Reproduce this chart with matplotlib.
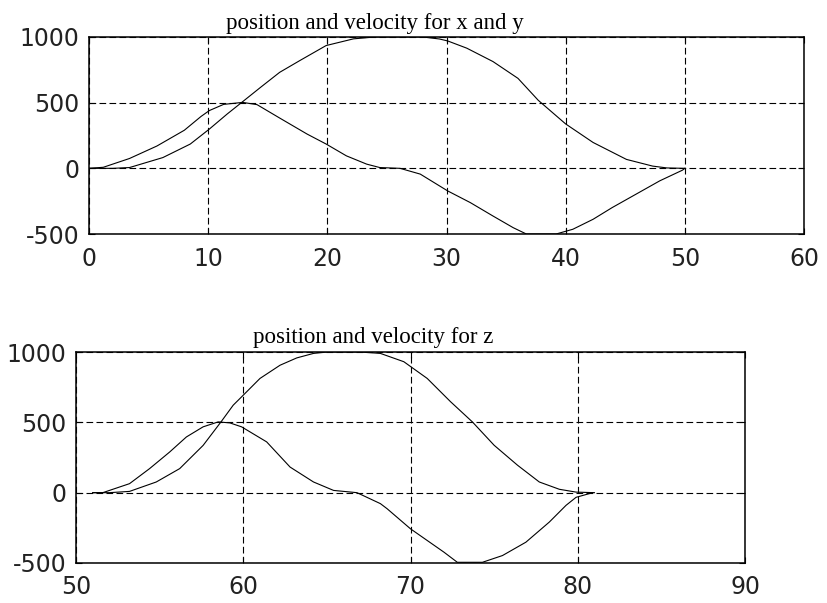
### Includes ###
import matplotlib
matplotlib.use("Agg")
import matplotlib.pyplot as plt

plt.rcParams["axes.unicode_minus"] = False

##
# Values
##
xyPosTime	= [0, 2, 3.4, 6.2, 8.5, 10.1, 11.6, 12.9, 14.4, 16.0, 17.7, 19.9, 22.2, 24, 28, 29.4, 30.1, 31.7, 33.9, 36.0, 37.7, 40.0, 42.3, 45.1, 47.3, 48.5, 50]
xyPosition	= [0, 0, 6, 82, 185, 299, 414, 508, 617, 731, 821, 935, 986, 1000, 1000, 985, 970, 915, 813, 685, 518, 338, 197, 68, 17, 3, 0]
xyVelTime	= [0, 1.2, 3.4, 5.7, 8.0, 9.4, 10.1, 11.3, 12.9, 14.1, 16.0, 18.3, 19.9, 21.6, 23.3, 24.4, 26.1, 27.8, 30.1, 32.0, 33.9, 35.6, 36.7, 39.2, 40.6, 42.3, 43.9, 45.9, 47.9, 49.8, 50]
xyVelocity	= [0, 8, 75, 170, 290, 395, 440, 487, 502, 485, 383, 261, 185, 95, 32, 6, 0, -44, -172, -261, -363, -452, -500, -500, -464, -388, -299, -197, -95, -14, 0]

zPosTime	= [51, 52, 53.2, 54.8, 56.2, 57.6, 58.7, 59.4, 59.9, 61.0, 62.2, 63.2, 64.2, 65, 67.0, 68.2, 69.6, 71.0, 72.4, 73.7, 75.0, 76.4, 77.7, 78.9, 79.9, 81]
zPosition	= [0, 0, 9, 76, 171, 336, 508, 622, 681, 812, 906, 958, 990, 1000, 1000, 990, 931, 812, 646, 503, 337, 195, 76, 24, 4, 0]
zVelTime	= [51, 51.6, 53.2, 54.4, 55.6, 56.6, 57.6, 58.5, 59.2, 59.9, 61.4, 62.8, 64.2, 65.4, 66.8, 68.2, 68.6, 70.0, 71.0, 72.0, 72.8, 74.3, 75.5, 76.9, 78.3, 79.3, 79.9, 80.9]
zVelocity	= [0, 0, 64, 171, 289, 396, 468, 503, 496, 468, 361, 182, 76, 16, 0, -78, -114, -257, -340, -423, -495, -495, -447, -352, -209, -90, -33, 0]

topXTicks	= [0, 10, 20, 30, 40, 50, 60]
botXTicks	= [50, 60, 70, 80, 90]
yTicks		= [-500, 0, 500, 1000]

titleTop	= "position and velocity for x and y"
titleBot	= "position and velocity for z"

##
# Shared MATLAB-ish look for one axes
##
def styleAxes(ax, xTicks):
	ax.set_xlim(xTicks[0], xTicks[-1])
	ax.set_ylim(-500, 1000)
	ax.set_xticks(xTicks)
	ax.set_yticks(yTicks)
	ax.tick_params(direction="in", length=4, width=0.8, labelsize=17,
		top=True, right=True, pad=7)
	ax.tick_params(axis="x", pad=9)
	ax.grid(True, color="black", linestyle=(0, (6, 3)), linewidth=0.8)
	for spine in ax.spines.values():
		spine.set_linewidth(1.1)
	for label in ax.get_xticklabels() + ax.get_yticklabels():
		label.set_family("DejaVu Sans")
		label.set_color("#222222")

fig = plt.figure(figsize=(8.27, 6.03), dpi=100)

## Top: x and y
axTop = fig.add_axes([89/827, 1 - 234/603, (804 - 89)/827, (234 - 37)/603])
axTop.plot(xyPosTime, xyPosition, color="black", linewidth=0.8)
axTop.plot(xyVelTime, xyVelocity, color="black", linewidth=0.8)
styleAxes(axTop, topXTicks)

## Bottom: z
axBot = fig.add_axes([76/827, 1 - 563/603, (745 - 76)/827, (563 - 352)/603])
axBot.plot(zPosTime, zPosition, color="black", linewidth=0.8)
axBot.plot(zVelTime, zVelocity, color="black", linewidth=0.8)
styleAxes(axBot, botXTicks)

## Titles sit left of centre in the original
fig.text(375/827, 1 - 29/603, titleTop, ha="center", va="baseline",
	family="Liberation Serif", fontsize=16.5)
fig.text(373/827, 1 - 343/603, titleBot, ha="center", va="baseline",
	family="Liberation Serif", fontsize=16.5)

fig.savefig("out.png", dpi=100)
